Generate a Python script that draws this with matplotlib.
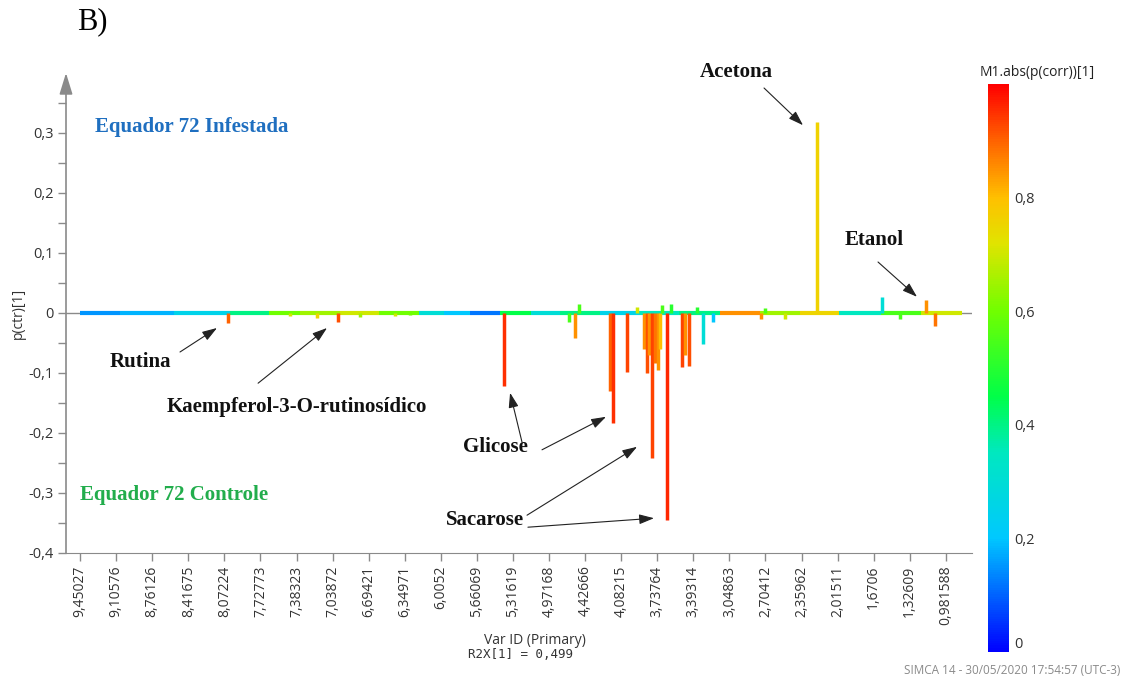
import numpy as np
import matplotlib
matplotlib.use("Agg")
import matplotlib.pyplot as plt
from matplotlib.colors import LinearSegmentedColormap, Normalize

plt.rcParams["font.family"] = ["Open Sans", "DejaVu Sans"]

# ------------------------------- data -------------------------------
# x axis is the variable index (one column per NMR bucket), labelled every 20 vars
TICK_LABELS = ["9,45027", "9,10576", "8,76126", "8,41675", "8,07224", "7,72773",
               "7,38323", "7,03872", "6,69421", "6,34971", "6,0052", "5,66069",
               "5,31619", "4,97168", "4,42666", "4,08215", "3,73764", "3,39314",
               "3,04863", "2,70412", "2,35962", "2,01511", "1,6706", "1,32609",
               "0,981588"]
TICK_STEP = 20

# loading peaks: variable index, p(ctr)[1], abs(p(corr))[1]
PEAK_VAR = [82.2, 116.4, 131.2, 143.2, 155.2, 174.6, 183.0,
            235.2, 271.2, 274.4, 276.8, 293.8, 295.2, 303.4, 308.6,
            312.9, 314.1, 315.5, 316.9, 318.8, 320.6, 321.5, 322.4,
            325.6, 327.7, 333.5, 335.4, 337.7, 341.8, 345.2, 351.0,
            377.5, 379.7, 390.8, 408.4, 444.4, 454.5, 468.9, 474.0]
PEAK_VAL = [-0.016, -0.005, -0.008, -0.015, -0.006, -0.005, -0.004,
            -0.122, -0.015, -0.041, 0.015, -0.130, -0.184, -0.098, 0.010,
            -0.060, -0.100, -0.070, -0.242, -0.083, -0.095, -0.060, 0.013,
            -0.345, 0.015, -0.090, -0.070, -0.088, 0.010, -0.052, -0.015,
            -0.010, 0.008, -0.010, 0.319, 0.026, -0.010, 0.022, -0.022]
PEAK_CORR = [0.90, 0.70, 0.75, 0.92, 0.65, 0.70, 0.60,
             0.95, 0.55, 0.85, 0.55, 0.90, 0.95, 0.93, 0.70,
             0.85, 0.92, 0.85, 0.93, 0.88, 0.85, 0.80, 0.55,
             0.96, 0.50, 0.93, 0.85, 0.92, 0.50, 0.30, 0.20,
             0.85, 0.55, 0.70, 0.76, 0.30, 0.55, 0.85, 0.88]

# near-zero baseline stretches: start var, end var, abs(p(corr))[1]
BASE_START = [0, 22, 52, 83, 105, 122, 144, 166, 188, 202, 216, 233, 250,
              266, 288, 310, 332, 355, 377, 399, 421, 444, 466]
BASE_END = [22, 52, 83, 105, 122, 144, 166, 188, 202, 216, 233, 250, 266,
            288, 310, 332, 355, 377, 399, 421, 444, 466, 489]
BASE_CORR = [0.15, 0.18, 0.25, 0.40, 0.60, 0.65, 0.70, 0.60, 0.30, 0.20,
             0.12, 0.45, 0.30, 0.40, 0.25, 0.35, 0.40, 0.85, 0.65, 0.75,
             0.35, 0.55, 0.70]

# compound labels: text, text anchor (var, y), arrows [(tail), (head)]
LABELS = [
    ("Acetona", (343.7, 0.402), [((379.2, 0.375), (400.8, 0.313))]),
    ("Etanol", (424.1, 0.122), [((442.4, 0.085), (464.0, 0.027))]),
    ("Rutina", (16.6, -0.082), [((55.4, -0.065), (75.9, -0.025))]),
    ("Kaempferol-3-O-rutinosídico", (48.2, -0.157),
     [((98.7, -0.117), (136.9, -0.025))]),
    ("Glicose", (212.3, -0.223), [((245.0, -0.215), (238.4, -0.133)),
                                  ((256.1, -0.228), (291.6, -0.173))]),
    ("Sacarose", (202.9, -0.345), [((247.8, -0.337), (308.8, -0.223)),
                                   ((248.3, -0.357), (318.2, -0.342))]),
]
GROUPS = [("Equador 72 Infestada", (8.3, 0.310), "#1f6fc0"),
          ("Equador 72 Controle", (0.0, -0.303), "#22ad4c")]

# SIMCA-like colour scale for abs(p(corr))
CMAP = LinearSegmentedColormap.from_list("simca", [
    (0.0, "#0000ff"), (0.2, "#00c8ff"), (0.35, "#00e8c0"), (0.45, "#00ff48"),
    (0.6, "#70ff00"), (0.72, "#e0e400"), (0.8, "#ffc000"), (0.9, "#ff6400"),
    (1.0, "#ff0000")])
NORM = Normalize(0, 1)

SERIF = ["Liberation Serif", "DejaVu Serif"]
GRAY = "#8a8a8a"


def fmt(v):
    v = round(v, 2) + 0.0
    return "0" if v == 0 else ("%g" % v).replace(".", ",")


fig = plt.figure(figsize=(11.32, 6.78), dpi=100)
ax = fig.add_axes([66 / 1132, 125 / 678, 906 / 1132, 480 / 678])

ax.axhline(0, color=GRAY, lw=1.0, zorder=1)
ax.hlines(np.zeros(len(BASE_START)), BASE_START, BASE_END,
          colors=CMAP(NORM(BASE_CORR)), lw=3.0, zorder=2)
ax.vlines(PEAK_VAR, np.zeros(len(PEAK_VAR)), PEAK_VAL,
          colors=CMAP(NORM(PEAK_CORR)), lw=2.5, zorder=3)

ax.set_xlim(-7.8, 494.5)
ax.set_ylim(-0.4, 0.4)

for side in ("top", "right", "left"):
    ax.spines[side].set_visible(False)
ax.spines["bottom"].set_color(GRAY)
# y axis drawn as an arrow
ax.annotate("", xy=(0, 1.0), xytext=(0, 0), xycoords="axes fraction",
            arrowprops=dict(arrowstyle="-|>,head_length=1.3,head_width=0.4",
                            color=GRAY, lw=1.2, shrinkA=0, shrinkB=0))

yt = np.round(np.arange(-0.4, 0.31, 0.1), 2)
ax.set_yticks(yt)
ax.set_yticklabels([fmt(v) for v in yt])
ax.set_yticks(np.round(np.arange(-0.35, 0.36, 0.1), 2), minor=True)
ax.tick_params(axis="y", which="both", color=GRAY, length=6, width=1,
               labelsize=10.5, labelcolor="#333333", pad=3)

ax.set_xticks(np.arange(len(TICK_LABELS)) * TICK_STEP)
ax.set_xticklabels(TICK_LABELS, rotation=90)
ax.tick_params(axis="x", color=GRAY, length=6, width=1, labelsize=10,
               labelcolor="#333333", pad=3)

for text, pos, arrows in LABELS:
    ax.text(pos[0], pos[1], text, family=SERIF, weight="bold", fontsize=15,
            ha="left", va="center", color="#111111", clip_on=False)
    for tail, head in arrows:
        ax.annotate("", xy=head, xytext=tail, annotation_clip=False,
                    arrowprops=dict(arrowstyle="-|>,head_length=0.9,head_width=0.3",
                                    color="#222222", lw=0.8,
                                    shrinkA=0, shrinkB=0))

for text, pos, color in GROUPS:
    ax.text(pos[0], pos[1], text, family=SERIF, weight="bold", fontsize=15,
            ha="left", va="center", color=color)

fig.text(77 / 1132, 1 - 22 / 678, "B)", family=SERIF, fontsize=22,
         ha="left", va="center")
fig.text(18 / 1132, 1 - 313 / 678, "p(ctr)[1]", rotation=90, fontsize=10,
         ha="center", va="center", color="#333333")
fig.text(535 / 1132, 1 - 640 / 678, "Var ID (Primary)", fontsize=10,
         ha="center", va="center", color="#333333")
fig.text(520 / 1132, 1 - 655 / 678, "R2X[1] = 0,499", family="DejaVu Sans Mono",
         fontsize=9, ha="center", va="center", color="#333333")
fig.text(1120 / 1132, 1 - 670 / 678, "SIMCA 14 - 30/05/2020 17:54:57 (UTC-3)",
         fontsize=8.5, ha="right", va="center", color=GRAY)

# colour bar
cax = fig.add_axes([988 / 1132, 26 / 678, 21 / 1132, 568 / 678])
sm = plt.cm.ScalarMappable(norm=NORM, cmap=CMAP)
cb = fig.colorbar(sm, cax=cax)
cb.outline.set_visible(False)
ct = [0, 0.2, 0.4, 0.6, 0.8]
cb.set_ticks(ct)
cb.set_ticklabels([fmt(v) for v in ct])
cax.tick_params(length=0, labelsize=10.5, labelcolor="#333333", pad=4)
cax.get_yticklabels()[0].set_va("bottom")
fig.text(980 / 1132, 1 - 72 / 678, "M1.abs(p(corr))[1]", fontsize=10,
         ha="left", va="center", color="#222222")

fig.savefig("out.png", dpi=100)
